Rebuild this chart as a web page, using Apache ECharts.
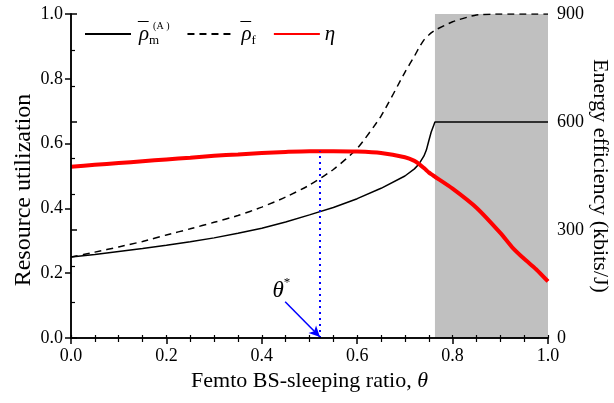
<!DOCTYPE html>
<html>
<head>
<meta charset="utf-8">
<script src="https://cdn.jsdelivr.net/npm/echarts@6/dist/echarts.min.js"></script>
<style>
  html, body { margin: 0; padding: 0; background: #fff; }
  #chart { width: 614px; height: 403px; }
</style>
</head>
<body>
<div id="chart"></div>
<script>
// Femto BS-sleeping ratio samples
const theta = [0, 0.05, 0.1, 0.15, 0.2, 0.25, 0.3, 0.35, 0.4, 0.45, 0.5, 0.55, 0.6, 0.65,
               0.7, 0.72, 0.73, 0.74, 0.745, 0.75, 0.755, 0.763, 0.8, 0.85, 0.9, 0.925, 0.95, 0.975, 1.0];
// Macro-cell resource utilization (left axis)
const rhoM = [0.25, 0.258, 0.267, 0.276, 0.286, 0.297, 0.309, 0.323, 0.339, 0.358, 0.38, 0.403, 0.43, 0.462,
              0.5, 0.522, 0.538, 0.562, 0.58, 0.608, 0.635, 0.667, 0.667, 0.667, 0.667, 0.667, 0.667, 0.667, 0.667];
// Femto-cell resource utilization (left axis)
const rhoF = [0.25, 0.265, 0.281, 0.298, 0.318, 0.337, 0.357, 0.378, 0.404, 0.435, 0.472, 0.52, 0.585, 0.685,
              0.82, 0.87, 0.897, 0.92, 0.928, 0.935, 0.942, 0.95, 0.976, 0.997, 1.0, 1.0, 1.0, 1.0, 1.0];
// Energy efficiency in kbits/J (right axis)
const eta = [476, 481, 486, 491, 496, 501, 506, 510, 514, 517, 519, 519, 518, 514,
             502, 492, 483, 472, 466, 460, 455, 448, 415, 362, 292, 252, 220, 191, 157];

// Optimal sleeping ratio and the start of the saturated (shaded) region
const thetaStar = 0.522;
const etaStar = 519;
const shadeStart = 0.763;

// Tick labels
const xTicks = ['0.0', '0.2', '0.4', '0.6', '0.8', '1.0'];
const yLeftTicks = ['0.0', '0.2', '0.4', '0.6', '0.8', '1.0'];
const yRightTicks = ['0', '300', '600', '900'];

const FONT = '"Liberation Serif", "Times New Roman", serif';
const pairs = (ys) => theta.map((t, i) => [t, ys[i]]);

// legend entries: rho with an overbar, plus sub/superscripts
const legendText = {
  rhoM: '{bar|\u00AF}{r|\u03C1}{sub|m}{sup|(A )}',
  rhoF: '{bar|\u00AF}{r|\u03C1}{sub|f}',
  eta: '{r|\u03B7}'
};

const chart = echarts.init(document.getElementById('chart'), null, { renderer: 'canvas' });

const axisLine = { show: true, lineStyle: { color: '#000', width: 1.5 } };

chart.setOption({
  animation: false,
  backgroundColor: '#fff',
  grid: { left: 71, right: 66, top: 14, bottom: 65, containLabel: false, outerBoundsMode: 'none' },
  legend: {
    left: 79, top: 16,
    itemWidth: 46, itemHeight: 14, itemGap: 17,
    data: ['rhoM', 'rhoF', 'eta'],
    itemStyle: { opacity: 0 },
    formatter: (name) => legendText[name],
    textStyle: {
      color: '#000', fontFamily: FONT, fontSize: 20,
      rich: {
        bar: { fontFamily: FONT, fontSize: 21, lineHeight: 26, width: 1, padding: [0, 0, 0, 2], color: '#000', verticalAlign: 'top' },
        r: { fontFamily: FONT, fontStyle: 'italic', fontSize: 21, lineHeight: 26, color: '#000' },
        sub: { fontFamily: FONT, fontSize: 13, verticalAlign: 'bottom', lineHeight: 13, width: 4, color: '#000' },
        sup: { fontFamily: FONT, fontSize: 10, verticalAlign: 'top', lineHeight: 12, color: '#000' }
      }
    }
  },
  xAxis: [{
    type: 'value', position: 'bottom', min: 0, max: 1, interval: 0.2, z: 5,
    axisLine,
    axisTick: { show: true, inside: false, length: 6, lineStyle: { color: '#000', width: 1.5 } },
    minorTick: { show: true, splitNumber: 4, length: 4, lineStyle: { color: '#000', width: 1.2 } },
    splitLine: { show: false },
    axisLabel: {
      color: '#000', fontFamily: FONT, fontSize: 18, margin: 9,
      formatter: (v) => xTicks[Math.round(v / 0.2)]
    },
    name: 'Femto BS-sleeping ratio, {i|\u03B8}',
    nameLocation: 'middle', nameGap: 32,
    nameTextStyle: {
      color: '#000', fontFamily: FONT, fontSize: 22,
      rich: { i: { fontFamily: FONT, fontStyle: 'italic', fontSize: 22, color: '#000' } }
    }
  }, {
    type: 'value', position: 'top', min: 0, max: 1, interval: 0.2, z: 5,
    axisLine,
    axisTick: { show: true, inside: false, length: 3, lineStyle: { color: '#000', width: 1.2 } },
    minorTick: { show: true, splitNumber: 4, length: 3, lineStyle: { color: '#000', width: 1.2 } },
    splitLine: { show: false },
    axisLabel: { show: false }
  }],
  yAxis: [{
    type: 'value', position: 'left', min: 0, max: 1, interval: 0.2, z: 5,
    axisLine,
    axisTick: { show: true, inside: false, length: 6, lineStyle: { color: '#000', width: 1.5 } },
    splitLine: { show: false },
    axisLabel: {
      color: '#000', fontFamily: FONT, fontSize: 18, margin: 8,
      formatter: (v) => yLeftTicks[Math.round(v / 0.2)]
    },
    name: 'Resource utilization',
    nameLocation: 'middle', nameGap: 35, nameMoveOverlap: false,
    nameTextStyle: { color: '#000', fontFamily: FONT, fontSize: 24, padding: [0, 28, 0, 0] }
  }, {
    type: 'value', position: 'right', min: 0, max: 900, interval: 300, z: 5,
    axisLine,
    axisTick: { show: true, inside: false, length: 6, lineStyle: { color: '#000', width: 1.5 } },
    minorTick: { show: true, splitNumber: 3, length: 4, lineStyle: { color: '#000', width: 1.2 } },
    splitLine: { show: false },
    axisLabel: {
      color: '#000', fontFamily: FONT, fontSize: 18, margin: 9,
      formatter: (v) => yRightTicks[Math.round(v / 300)]
    },
    name: 'Energy efficiency (kbits/J)',
    nameLocation: 'middle', nameGap: 41, nameRotate: -90, nameMoveOverlap: false,
    nameTextStyle: { color: '#000', fontFamily: FONT, fontSize: 22 }
  }],
  series: [{
    // shaded region where macro-cell utilization saturates
    name: 'shade', type: 'line', data: [], z: 1, silent: true,
    markArea: {
      silent: true,
      itemStyle: { color: '#c0c0c0' },
      data: [[{ xAxis: shadeStart }, { xAxis: 1 }]]
    }
  }, {
    name: 'rhoM', type: 'line', z: 3, xAxisIndex: 0, yAxisIndex: 0,
    data: pairs(rhoM), showSymbol: false, symbol: 'none',
    lineStyle: { color: '#000', width: 1.5 }, itemStyle: { color: '#000' },
    markLine: {
      silent: true, symbol: ['none', 'arrow'], symbolSize: [8, 11],
      label: { show: false },
      lineStyle: { color: '#0000ff', width: 1.5, type: 'solid' },
      data: [[{ coord: [0.449, 0.112] }, { coord: [thetaStar, 0.003] }]]
    },
    markPoint: {
      silent: true, symbol: 'circle', symbolSize: 1,
      itemStyle: { color: 'rgba(0,0,0,0)' },
      label: {
        show: true, position: 'inside',
        formatter: '{t|\u03B8}{s|*}',
        rich: {
          t: { fontFamily: FONT, fontStyle: 'italic', fontSize: 23, color: '#000', lineHeight: 26, verticalAlign: 'bottom' },
          s: { fontFamily: FONT, fontSize: 13, color: '#000', lineHeight: 26, verticalAlign: 'top' }
        }
      },
      data: [{ coord: [0.441, 0.15] }]
    }
  }, {
    name: 'rhoF', type: 'line', z: 3, xAxisIndex: 0, yAxisIndex: 0,
    data: pairs(rhoF), showSymbol: false, symbol: 'none', smooth: 0.2,
    lineStyle: { color: '#000', width: 1.5, type: [7, 5] }, itemStyle: { color: '#000' }
  }, {
    name: 'eta', type: 'line', z: 4, xAxisIndex: 0, yAxisIndex: 1,
    data: pairs(eta), showSymbol: false, symbol: 'none', smooth: 0.25,
    lineStyle: { color: '#ff0000', width: 4 }, itemStyle: { color: '#ff0000' },
    markLine: {
      silent: true, symbol: ['none', 'none'],
      label: { show: false },
      lineStyle: { color: '#0000ff', width: 2, type: [2, 4] },
      data: [[{ coord: [thetaStar, 0] }, { coord: [thetaStar, etaStar] }]]
    }
  }]
});
</script>
</body>
</html>
